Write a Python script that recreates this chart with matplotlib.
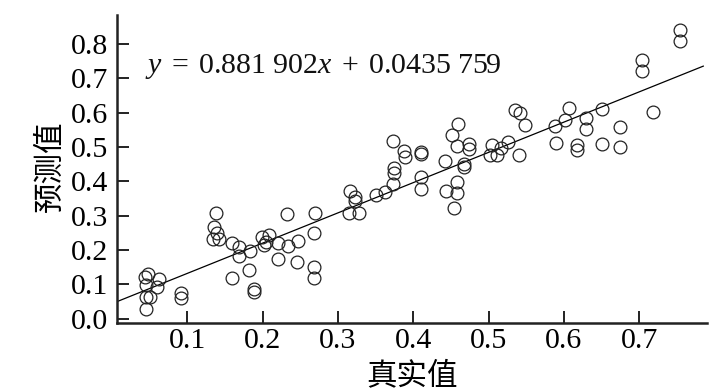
import matplotlib
matplotlib.use("Agg")
import matplotlib.pyplot as plt
import numpy as np

# ---- data ----
true_values = [0.048, 0.044, 0.063, 0.045, 0.060, 0.050, 0.045, 0.045, 0.092, 0.092,
               0.138, 0.135, 0.140, 0.134, 0.142, 0.159, 0.169, 0.169, 0.183, 0.182,
               0.159, 0.188, 0.188, 0.199, 0.202, 0.209, 0.205, 0.221, 0.234, 0.247,
               0.221, 0.246, 0.232, 0.270, 0.268, 0.268, 0.268,
               0.316, 0.323, 0.323, 0.315, 0.328, 0.351, 0.363, 0.373, 0.374, 0.374,
               0.373, 0.387, 0.389, 0.410, 0.410, 0.410, 0.410, 0.442, 0.443, 0.458,
               0.458, 0.454, 0.460, 0.451, 0.458, 0.474, 0.474, 0.467, 0.467,
               0.504, 0.516, 0.526, 0.502, 0.511, 0.540, 0.535, 0.542, 0.548, 0.588,
               0.589, 0.601, 0.607, 0.617, 0.617, 0.629, 0.629, 0.651, 0.651, 0.674,
               0.674, 0.704, 0.704, 0.718, 0.754, 0.754]
predicted_values = [0.129, 0.120, 0.114, 0.099, 0.091, 0.064, 0.062, 0.029, 0.074, 0.059,
                    0.308, 0.266, 0.248, 0.231, 0.231, 0.221, 0.210, 0.183, 0.196, 0.142,
                    0.118, 0.085, 0.076, 0.239, 0.215, 0.245, 0.224, 0.220, 0.212, 0.227,
                    0.175, 0.165, 0.304, 0.309, 0.248, 0.149, 0.117,
                    0.373, 0.353, 0.344, 0.307, 0.307, 0.360, 0.369, 0.392, 0.423, 0.438,
                    0.518, 0.489, 0.470, 0.487, 0.480, 0.413, 0.378, 0.460, 0.373, 0.399,
                    0.365, 0.322, 0.567, 0.535, 0.502, 0.508, 0.495, 0.451, 0.443,
                    0.505, 0.497, 0.516, 0.477, 0.476, 0.477, 0.608, 0.600, 0.563, 0.560,
                    0.513, 0.580, 0.613, 0.506, 0.492, 0.584, 0.553, 0.612, 0.508, 0.558,
                    0.499, 0.755, 0.723, 0.603, 0.841, 0.809]

slope = 0.881902
intercept = 0.0435759
fit_x_range = [0.0062, 0.785]

x_ticks = [0.1, 0.2, 0.3, 0.4, 0.5, 0.6, 0.7]
x_tick_labels = ["0.1", "0.2", "0.3", "0.4", "0.5", "0.6", "0.7"]
y_ticks = [0.0, 0.1, 0.2, 0.3, 0.4, 0.5, 0.6, 0.7, 0.8]
y_tick_labels = ["0.0", "0.1", "0.2", "0.3", "0.4", "0.5", "0.6", "0.7", "0.8"]

x_label = "真实值"
y_label = "预测值"
equation = r"$y\;=\;0.881\ 902x\;+\;0.0435\ 759$"

# ---- style ----
plt.rcParams["mathtext.fontset"] = "custom"
plt.rcParams["mathtext.rm"] = "Liberation Serif"
plt.rcParams["mathtext.it"] = "Liberation Serif:italic"
plt.rcParams["mathtext.bf"] = "Liberation Serif:bold"

fig = plt.figure(figsize=(7.28, 3.9), dpi=100)
ax = fig.add_axes([0.1603, 0.1726, 0.8104, 0.789])

xs = np.array(fit_x_range)
ax.plot(xs, slope * xs + intercept, color="black", lw=0.9, zorder=2)

ax.plot(true_values, predicted_values, linestyle="none", marker="o",
        markersize=9.2, markerfacecolor="none", markeredgecolor="#222222",
        markeredgewidth=0.9, zorder=3)

ax.set_xlim(0.0062, 0.7895)
ax.set_ylim(-0.012, 0.885)

ax.set_xticks(x_ticks)
ax.set_xticklabels(x_tick_labels, fontfamily="Liberation Serif", fontsize=21.5)
ax.set_yticks(y_ticks)
ax.set_yticklabels(y_tick_labels, fontfamily="Liberation Serif", fontsize=21.5)

ax.tick_params(axis="both", direction="in", length=8.5, width=1.4, color="#222222")
ax.tick_params(axis="x", pad=3.5)
ax.tick_params(axis="y", pad=6)

for side in ["top", "right"]:
    ax.spines[side].set_visible(False)
for side in ["left", "bottom"]:
    ax.spines[side].set_linewidth(1.8)
    ax.spines[side].set_color("#222222")

ax.set_xlabel(x_label, fontfamily="Noto Sans CJK SC", fontsize=22)
ax.set_ylabel(y_label, fontfamily="Noto Sans CJK SC", fontsize=22)
ax.xaxis.set_label_coords(0.5005, -0.171)
ax.xaxis.label.set_va("center")
ax.yaxis.set_label_coords(-0.113, 0.509)
ax.yaxis.label.set_va("center")

ax.text(0.048, 0.831, equation, transform=ax.transAxes, fontsize=21.5,
        ha="left", va="center", color="#111111")

fig.savefig("out.png", dpi=100)
